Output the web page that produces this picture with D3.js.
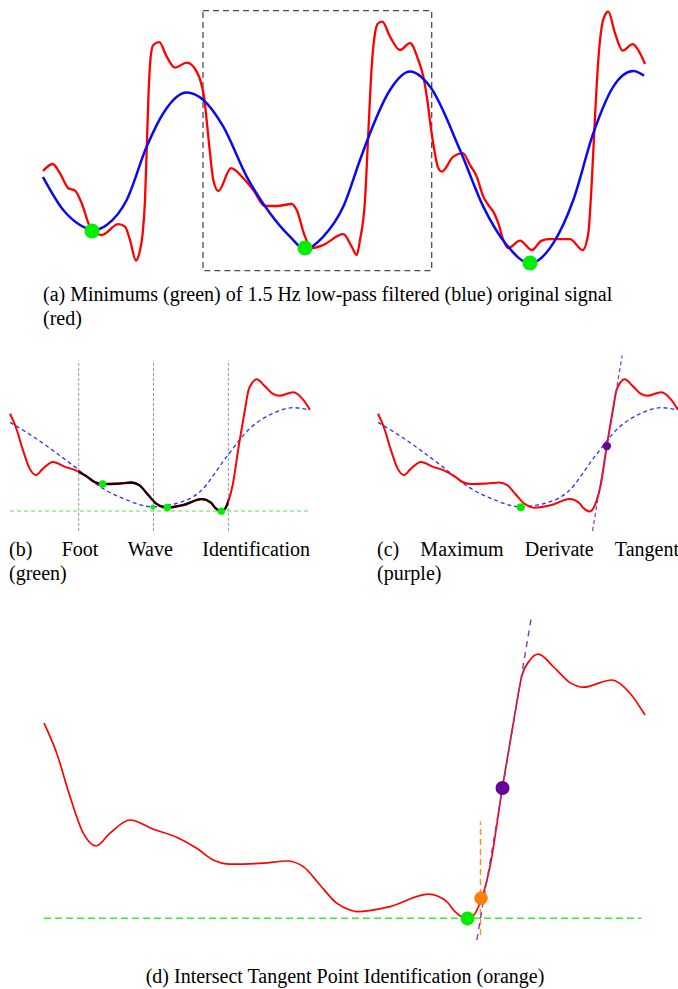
<!DOCTYPE html>
<html>
<head>
<meta charset="utf-8">
<script src="https://cdn.jsdelivr.net/npm/d3@7"></script>
<style>
html,body{margin:0;padding:0;background:#fff;}
svg{display:block;}
text{font-family:"Liberation Serif","Times New Roman","DejaVu Serif","Noto Serif",serif;}
</style>
</head>
<body>
<svg id="chart" width="678" height="989"></svg>
<script>
// ---------- DATA (time in ms, amplitude in arbitrary units) ----------
// Panel (a): original signal (red), three beats
const originalA = [[0,52],[48.5,55.5],[85,50.8],[126.5,43.4],[160,42.2],[193.5,35.9],[235,24.2],[293.5,20],[376.5,25.4],[410,24.2],[435,17.5],[465,7.2],[481.5,10.9],[498.5,20.9],[510,37.5],[518.5,62.5],[526.5,87.5],[538.5,109.2],[551.5,115],[581.5,116.4],[618.5,109.2],[660,103.7],[718.5,106.2],[768.5,101.7],[788.5,96.7],[805,89.2],[821.5,74.2],[835,60.9],[851.5,47.5],[876.5,42],[940,53.4],[1001.5,48.4],[1051.5,42.5],[1110,34.5],[1168.5,34.5],[1243.5,35.5],[1268.5,32.5],[1310,19.2],[1343.5,13.4],[1401.5,15],[1501.5,20.4],[1543.5,14.2],[1568.5,10],[1585,17.5],[1610,37.5],[1626.5,70.9],[1643.5,104.2],[1660,120.9],[1676.5,125.9],[1696.5,126.7],[1735,119.2],[1785,112.5],[1835,115.9],[1876.5,107.5],[1901.5,99.2],[1921.5,87.5],[1938.5,74.2],[1956.5,62.5],[1973.5,54.2],[1993.5,51.7],[2051.5,59.2],[2098.5,60.9],[2135,55],[2168.5,49.2],[2201.5,39.2],[2226.5,35],[2251.5,31.7],[2276.5,25.9],[2301.5,17.5],[2326.5,13.4],[2385,17.2],[2443.5,12.5],[2493.5,17.2],[2535,17.9],[2635,17.9],[2698.5,12.5],[2726.5,20.9],[2743.5,45.9],[2760,79.2],[2776.5,107.5],[2793.5,124.2],[2810,130],[2826.5,131.7],[2860,120.9],[2898.5,112.2],[2948.5,115.4],[2985,110.9],[3010,105.5]];
// Panel (a): 1.5 Hz low-pass filtered signal (blue)
const filteredA = [[0,49],[101.5,32.5],[185,25],[251.5,22.5],[318.5,25],[418.5,37.5],[518.5,64.2],[601.5,80.9],[718.5,91.2],[801.5,87.5],[901.5,74.2],[1018.5,49.2],[1135,30.9],[1235,19.2],[1310,12.9],[1401.5,19.2],[1501.5,34.2],[1585,57.5],[1635,70.9],[1735,92.5],[1835,101.7],[1935,94.2],[2085,62.5],[2201.5,34.2],[2318.5,15],[2435,5.9],[2551.5,15.9],[2651.5,37.5],[2751.5,70.9],[2851.5,94.2],[2951.5,102],[3005,99.7]];
// Panel (a): minimums of filtered signal (green)
const minimaA = [[245,22],[1310,13.5],[2435,6]];
// Panel (a): zoom window (dashed box): [t0, t1], [amp0, amp1]
const windowT = [800, 1943.5];
const windowAmp = [2.2, 132.2];

// Panels (b)-(d): zoomed segment of one beat
const segOriginal = [[0,108.4],[25.4,93.4],[52,71.7],[78.6,53.4],[104,47],[132,53.4],[172,60],[218.6,55.4],[265.4,51.4],[305.4,45.9],[338.6,40],[372,37.9],[438.6,38.4],[485.4,39.5],[518.6,36.7],[552,27.5],[585.4,18.4],[612,15],[625.4,14.2],[692,16.7],[768.6,22.9],[805.4,19.2],[822,14.2],[848,10.5],[875.4,20.9],[892,36.7],[916.6,75.9],[940.8,111.7],[955.4,131.7],[972,140],[988.6,142.9],[1018.6,136.7],[1052,128.7],[1078.6,126.4],[1135.4,130],[1172,123.4],[1202,112.5]];
const segFiltered = [[0,99.8],[93.2,85.4],[267,53.7],[360.5,35.3],[467.5,22],[567.7,15.2],[668,18.6],[761.3,30.3],[868.3,65.4],[961.7,93.8],[1055,108.9],[1135,114.5],[1202,112.2]];
const footWindows = [275, 575, 875];          // search window boundaries (ms)
const footPoints = [[371,38],[630,14.5],[847,10.8]];
const filteredMin = [572, 14.8];
const footLevel = 10.9;
const maxDerivPoint = [917, 76];               // purple
const maxDerivSlope = 1.48;                    // amp per ms
const intersectPoint = [874, 20.9];            // orange
const tangentAmpC = [-9, 167];
const tangentAmpD = [0, 162.5];
const orangeAmp = [2.5, 59.2];
const vlineAmp = [-9, 162];

// Captions
const captionA = ["(a) Minimums (green) of 1.5 Hz low-pass filtered (blue) original signal", "(red)"];
const captionB = [["(b)","Foot","Wave","Identification"], "(green)"];
const captionC = [["(c)","Maximum","Derivate","Tangent"], "(purple)"];
const captionD = "(d) Intersect Tangent Point Identification (orange)";

// ---------- DRAWING ----------
const svg = d3.select("#chart");
const RED = "#ff0000", BLUE = "#0a0af0", GREEN = "#00ee00", PURPLE = "#660099", ORANGE = "#ff8000";

function lineGen(x, y) {
  return d3.line().x(d => x(d[0])).y(d => y(d[1])).curve(d3.curveMonotoneX);
}

// Panel (a)
const xA = d3.scaleLinear().domain([0, 3010]).range([43, 645]);
const yA = d3.scaleLinear().domain([0, 135]).range([275, 5]);
const gA = svg.append("g");
gA.append("rect")
  .attr("x", xA(windowT[0])).attr("y", yA(windowAmp[1]))
  .attr("width", xA(windowT[1]) - xA(windowT[0]))
  .attr("height", yA(windowAmp[0]) - yA(windowAmp[1]))
  .attr("fill", "none").attr("stroke", "#4d4d4d").attr("stroke-width", 1.3)
  .attr("stroke-dasharray", "6,4");
gA.append("path").datum(originalA).attr("d", lineGen(xA, yA))
  .attr("fill", "none").attr("stroke", RED).attr("stroke-width", 2.3);
gA.append("path").datum(filteredA).attr("d", lineGen(xA, yA))
  .attr("fill", "none").attr("stroke", BLUE).attr("stroke-width", 2.5);
gA.selectAll("circle").data(minimaA).join("circle")
  .attr("cx", d => xA(d[0])).attr("cy", d => yA(d[1])).attr("r", 7.5).attr("fill", GREEN);

// Shared segment scales
const segT = [0, 1202];
const segAmp = [0, 143];
const xB = d3.scaleLinear().domain(segT).range([10.05, 309.95]);
const yB = d3.scaleLinear().domain(segAmp).range([521.9, 379.26]);
const xC = d3.scaleLinear().domain(segT).range([378.05, 677.95]);
const yC = yB;
const xD = d3.scaleLinear().domain(segT).range([44, 645]);
const yD = d3.scaleLinear().domain(segAmp).range([940, 654]);

// Panel (b)
const gB = svg.append("g");
gB.selectAll("line.win").data(footWindows).join("line").attr("class", "win")
  .attr("x1", d => xB(d)).attr("x2", d => xB(d))
  .attr("y1", yB(vlineAmp[0])).attr("y2", yB(vlineAmp[1]))
  .attr("stroke", "#8a8a8a").attr("stroke-width", 0.9).attr("stroke-dasharray", "3,2");
gB.append("line")
  .attr("x1", xB(segT[0])).attr("x2", xB(segT[1]))
  .attr("y1", yB(footLevel)).attr("y2", yB(footLevel))
  .attr("stroke", "#55e055").attr("stroke-width", 1).attr("stroke-dasharray", "4,3");
gB.append("path").datum(segFiltered).attr("d", lineGen(xB, yB))
  .attr("fill", "none").attr("stroke", "#3030ff").attr("stroke-width", 1.3).attr("stroke-dasharray", "4,3");
gB.append("path").datum(segOriginal).attr("d", lineGen(xB, yB))
  .attr("fill", "none").attr("stroke", RED).attr("stroke-width", 2);
svg.append("clipPath").attr("id", "footClip").append("rect")
  .attr("x", xB(footWindows[0])).attr("y", 340)
  .attr("width", xB(footWindows[2]) - xB(footWindows[0])).attr("height", 200);
gB.append("path").datum(segOriginal).attr("d", lineGen(xB, yB))
  .attr("clip-path", "url(#footClip)")
  .attr("fill", "none").attr("stroke", "#1a0000").attr("stroke-width", 2.3);
gB.append("circle").attr("cx", xB(filteredMin[0])).attr("cy", yB(filteredMin[1])).attr("r", 2.4).attr("fill", GREEN);
gB.selectAll("circle.foot").data(footPoints).join("circle").attr("class", "foot")
  .attr("cx", d => xB(d[0])).attr("cy", d => yB(d[1])).attr("r", 3.7).attr("fill", GREEN);

// Tangent helper: t at given amplitude
const tangentT = a => maxDerivPoint[0] + (a - maxDerivPoint[1]) / maxDerivSlope;

// Panel (c)
const gC = svg.append("g");
gC.append("path").datum(segFiltered).attr("d", lineGen(xC, yC))
  .attr("fill", "none").attr("stroke", "#3030ff").attr("stroke-width", 1.3).attr("stroke-dasharray", "4,3");
gC.append("path").datum(segOriginal).attr("d", lineGen(xC, yC))
  .attr("fill", "none").attr("stroke", RED).attr("stroke-width", 2);
gC.append("line")
  .attr("x1", xC(tangentT(tangentAmpC[0]))).attr("y1", yC(tangentAmpC[0]))
  .attr("x2", xC(tangentT(tangentAmpC[1]))).attr("y2", yC(tangentAmpC[1]))
  .attr("stroke", "#7a3cc0").attr("stroke-width", 1.2).attr("stroke-dasharray", "4,3");
gC.append("circle").attr("cx", xC(filteredMin[0])).attr("cy", yC(filteredMin[1])).attr("r", 4).attr("fill", GREEN);
gC.append("circle").attr("cx", xC(maxDerivPoint[0])).attr("cy", yC(maxDerivPoint[1])).attr("r", 4.2).attr("fill", PURPLE);

// Panel (d)
const gD = svg.append("g");
gD.append("path").datum(segOriginal).attr("d", lineGen(xD, yD))
  .attr("fill", "none").attr("stroke", RED).attr("stroke-width", 1.7);
gD.append("line")
  .attr("x1", xD(0)).attr("x2", xD(1195))
  .attr("y1", yD(footLevel)).attr("y2", yD(footLevel))
  .attr("stroke", "#33ee33").attr("stroke-width", 1.5).attr("stroke-dasharray", "7,4");
gD.append("line")
  .attr("x1", xD(tangentT(footLevel))).attr("x2", xD(tangentT(footLevel)))
  .attr("y1", yD(orangeAmp[0])).attr("y2", yD(orangeAmp[1]))
  .attr("stroke", "#ff9020").attr("stroke-width", 1.5).attr("stroke-dasharray", "6,4");
gD.append("line")
  .attr("x1", xD(tangentT(tangentAmpD[0]))).attr("y1", yD(tangentAmpD[0]))
  .attr("x2", xD(tangentT(tangentAmpD[1]))).attr("y2", yD(tangentAmpD[1]))
  .attr("stroke", "#7a3cc0").attr("stroke-width", 1.4).attr("stroke-dasharray", "6,5");
gD.append("circle").attr("cx", xD(footPoints[2][0])).attr("cy", yD(footPoints[2][1])).attr("r", 7).attr("fill", GREEN);
gD.append("circle").attr("cx", xD(intersectPoint[0])).attr("cy", yD(intersectPoint[1])).attr("r", 6.7).attr("fill", ORANGE);
gD.append("circle").attr("cx", xD(maxDerivPoint[0])).attr("cy", yD(maxDerivPoint[1])).attr("r", 7).attr("fill", PURPLE);

// ---------- CAPTIONS ----------
const gT = svg.append("g").attr("font-size", 20).attr("fill", "#000");
gT.append("text").attr("x", 43).attr("y", 301).text(captionA[0]);
gT.append("text").attr("x", 43).attr("y", 325).text(captionA[1]);

function justify(words, x0, x1, y) {
  const els = words.map(w => gT.append("text").attr("y", y).text(w));
  const widths = els.map(e => e.node().getComputedTextLength());
  const gap = (x1 - x0 - d3.sum(widths)) / (words.length - 1);
  let x = x0;
  els.forEach((e, i) => { e.attr("x", x); x += widths[i] + gap; });
}
justify(captionB[0], 9, 310, 556);
gT.append("text").attr("x", 9).attr("y", 580).text(captionB[1]);
justify(captionC[0], 377, 679, 556);
gT.append("text").attr("x", 377).attr("y", 580).text(captionC[1]);
gT.append("text").attr("x", 345).attr("y", 983).attr("text-anchor", "middle").text(captionD);
</script>
</body>
</html>
